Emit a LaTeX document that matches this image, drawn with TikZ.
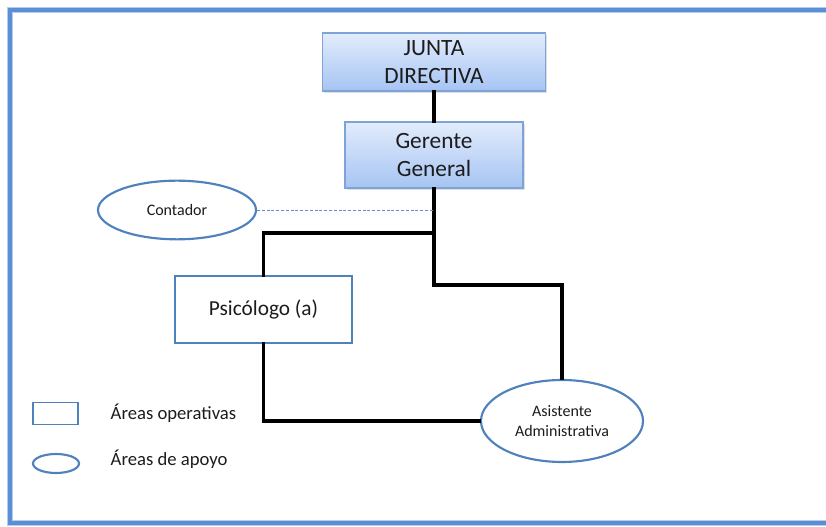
\documentclass[tikz,border=0pt]{standalone}
\usepackage{fontspec}
\setmainfont{Carlito}
\usetikzlibrary{positioning,shapes.geometric,shadows}
\definecolor{marco}{HTML}{5A8ED5}
\definecolor{marcoclaro}{HTML}{B4CDEF}
\definecolor{borde}{HTML}{4F81BD}
\definecolor{bordecaja}{HTML}{7EA3D8}
\definecolor{cajaarriba}{HTML}{E2ECFC}
\definecolor{cajaabajo}{HTML}{A6C4F3}
\definecolor{texto}{HTML}{1C1C1C}
\tikzset{
	org box/.style={
		draw=bordecaja, line width=0.9pt,
		top color=cajaarriba, bottom color=cajaabajo,
		drop shadow={opacity=0.25, shadow xshift=1.2pt, shadow yshift=-1.2pt},
		align=center, inner sep=0pt, text=texto,
		font=\fontsize{17.5}{21}\selectfont
	},
	oper box/.style={
		draw=borde, line width=1.4pt, fill=white,
		align=center, inner sep=0pt, text=texto
	},
	apoyo/.style={
		ellipse, draw=borde, line width=1.6pt, fill=white,
		align=center, inner sep=0pt, text=texto
	},
	enlace/.style={
		line width=2.3pt, black, line cap=rect
	},
	leyenda/.style={
		anchor=west, text=texto, font=\fontsize{14}{16}\selectfont
	}
}

\begin{document}
\begin{tikzpicture}[x=0.75pt,y=-0.75pt]
	\useasboundingbox (0,0) rectangle (826,527);
	
	% marco azul
	\draw[line width=4.6pt, marcoclaro] (840,10) -- (10,10) -- (10,523) -- (840,523);
	\draw[line width=2.6pt, marco] (840,10) -- (10,10) -- (10,523) -- (840,523);
	
	\node[org box, minimum width=167pt, minimum height=43.5pt] (JD) at (434,62) {JUNTA\\DIRECTIVA};
	\node[org box, minimum width=133.5pt, minimum height=49.5pt] (GG) at (434,155) {Gerente\\General};
	
	\node[apoyo, minimum width=118.5pt, minimum height=44pt,
		font=\fontsize{12}{14}\selectfont] (CO) at (177,210) {Contador};
	\node[oper box, minimum width=132.75pt, minimum height=50.25pt,
		font=\fontsize{16}{19}\selectfont] (PS) at (263.5,309.5) {Psicólogo (a)};
	\node[apoyo, minimum width=121.5pt, minimum height=61.5pt,
		font=\fontsize{12}{15}\selectfont] (AA) at (562,421) {Asistente\\Administrativa};
	
	\coordinate (T1) at (434,233);
	\coordinate (T2) at (434,285);
	
	\draw[enlace] (JD.south) -- (GG.north);
	\draw[enlace] (GG.south) -- (T1) -- (T2) -| (AA.north);
	\draw[enlace] (T1) -| (PS.north);
	\draw[enlace] (PS.south) |- (AA.west);
	\draw[marco, line width=0.7pt, dash pattern=on 2.2pt off 1.4pt] (CO.east) -- (CO.east -| T1);
	
	% leyenda
	\node[oper box, minimum width=33.75pt, minimum height=16.5pt] (LR) at (55.5,413.5) {};
	\node[apoyo, minimum width=34.5pt, minimum height=14.25pt] (LE) at (56,463.5) {};
	\node[leyenda] (LRt) at (106,413) {Áreas operativas};
	\node[leyenda] (LEt) at (106,459) {Áreas de apoyo};
\end{tikzpicture}
\end{document}
